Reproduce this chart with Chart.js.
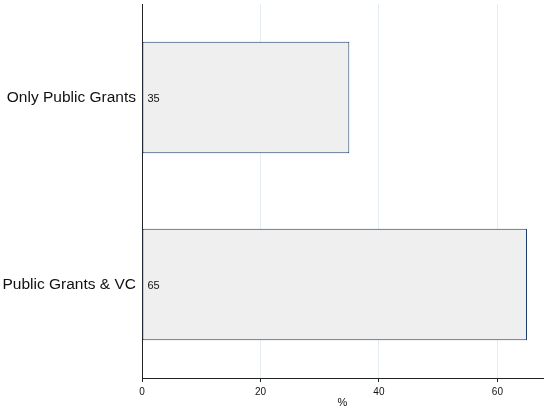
<!DOCTYPE html>
<html>
<head>
<meta charset="utf-8">
<script src="https://cdn.jsdelivr.net/npm/chart.js@4"></script>
<style>
  html, body { margin: 0; padding: 0; background: #fff; }
  #wrap { width: 546px; height: 409px; }
</style>
</head>
<body>
<div id="wrap"><canvas id="myChart" width="546" height="409"></canvas></div>
<script>
const categories = ["Only Public Grants", "Public Grants & VC"];
const shares = [35, 65];
const xTicks = [0, 20, 40, 60];

// writes the value just inside the base of each bar
const valueLabels = {
  id: "valueLabels",
  afterDatasetsDraw(chart) {
    const ctx = chart.ctx;
    const meta = chart.getDatasetMeta(0);
    ctx.save();
    ctx.font = "11px 'Liberation Sans', Arial, sans-serif";
    ctx.fillStyle = "#111";
    ctx.textBaseline = "middle";
    ctx.textAlign = "left";
    meta.data.forEach((bar, i) => {
      ctx.fillText(String(shares[i]), bar.base + 5, bar.y + 1);
    });
    ctx.restore();
  }
};

const ctx = document.getElementById("myChart").getContext("2d");
const chart = new Chart(ctx, {
  type: "bar",
  data: {
    labels: categories,
    datasets: [
      {
        data: shares,
        backgroundColor: "#efefef",
        borderColor: "#1a3d6b",
        borderWidth: 1,
        borderSkipped: false,
        categoryPercentage: 1,
        barPercentage: 0.595
      }
    ]
  },
  options: {
    indexAxis: "y",
    responsive: false,
    animation: false,
    layout: { padding: { top: 4, right: 3, left: 0, bottom: 0 } },
    plugins: {
      legend: { display: false },
      tooltip: { enabled: false }
    },
    scales: {
      x: {
        min: 0,
        max: 67.7,
        afterBuildTicks: axis => {
          axis.ticks = xTicks.map(v => ({ value: v }));
        },
        afterFit: axis => { axis.height = 31; },
        border: { display: true, color: "#222", width: 1 },
        grid: {
          color: c => (c.tick && c.tick.value === 0 ? "rgba(0,0,0,0)" : "#e4edf2"),
          tickColor: "#222",
          tickLength: 4,
          lineWidth: 1
        },
        ticks: {
          color: "#111",
          padding: 4,
          maxRotation: 0,
          font: { family: "'Liberation Sans', Arial, sans-serif", size: 10 }
        },
        title: {
          display: true,
          text: "%",
          color: "#111",
          padding: { top: 0, bottom: -1 },
          font: { family: "'Liberation Sans', Arial, sans-serif", size: 11 }
        }
      },
      y: {
        afterFit: axis => {
          axis.width = 142;
          axis.paddingTop = 0;
          axis.paddingBottom = 0;
        },
        border: { display: true, color: "#222", width: 1 },
        grid: { display: true, drawOnChartArea: false, drawTicks: false },
        ticks: {
          color: "#111",
          padding: 6,
          font: { family: "'Liberation Sans', Arial, sans-serif", size: 15.5 }
        }
      }
    }
  },
  plugins: [valueLabels]
});
</script>
</body>
</html>
